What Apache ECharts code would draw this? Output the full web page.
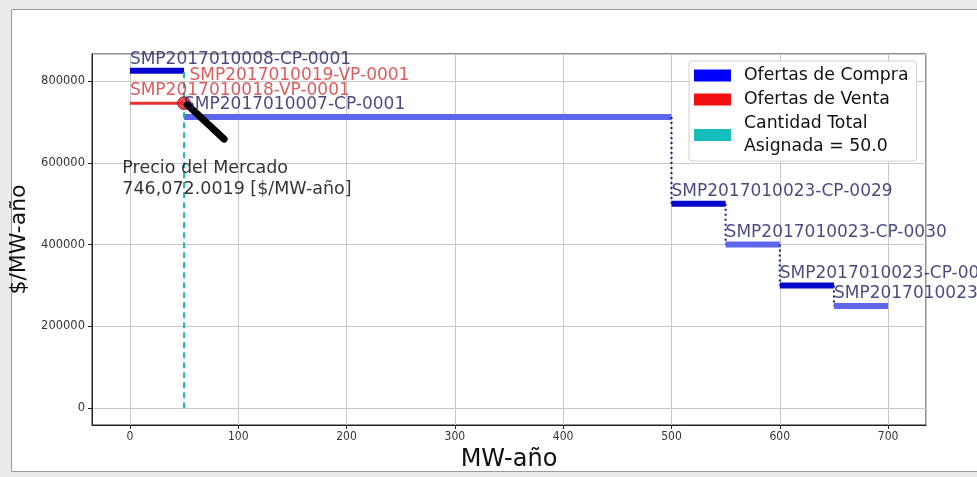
<!DOCTYPE html>
<html><head><meta charset="utf-8">
<script src="https://cdn.jsdelivr.net/npm/echarts@6/dist/echarts.min.js"></script>
<style>html,body{margin:0;padding:0;background:#ebebeb}#c{width:977px;height:477px}</style>
</head><body><div id="c"></div>
<script>
// ---- data ----
const buyNames  = ['SMP2017010008-CP-0001','SMP2017010007-CP-0001','SMP2017010023-CP-0029','SMP2017010023-CP-0030','SMP2017010023-CP-0031','SMP2017010023-CP-0032'];
const buyStart  = [0, 50, 500, 550, 600, 650];
const buyEnd    = [50, 500, 550, 600, 650, 700];
const buyPrice  = [825000, 712000, 500000, 400000, 300000, 250000];
const buyLabelX = [0, 50, 500, 550, 600, 650];
const buyLabelY = [832000, 722000, 509000, 409000, 309000, 259000];

const sellNames  = ['SMP2017010018-VP-0001','SMP2017010019-VP-0001'];
const sellStart  = [0, 50];
const sellEnd    = [50, 50];
const sellPrice  = [746072.0019, 785000];
const sellLabelX = [0, 55];
const sellLabelY = [757000, 793000];

const assignedQty = 50.0;
const marketPrice = 746072.0019;
const arrowTail = [87, 658000];
const arrowHead = [53, 742000];
const annotationPos = [-7, 510000];
const annotationText = 'Precio del Mercado\n746,072.0019 [$/MW-año]';

const legendNames = ['Ofertas de Compra','Ofertas de Venta','Cantidad Total\nAsignada = 50.0'];
const xName = 'MW-año', yName = '$/MW-año';
const xMin = -35, xMax = 735, yMin = -41250, yMax = 866250;

// ---- chart ----
const chart = echarts.init(document.getElementById('c'), null, {renderer:'canvas'});
const font = 'DejaVu Sans';
const darkBlue = '#0606cc', lightBlue = '#5f66ee';
const series = [];

buyNames.forEach((n,i)=>{
  series.push({
    name: legendNames[0], type:'line', symbol:'none', silent:true, z:3,
    itemStyle:{color:'#0000ff'},
    lineStyle:{width:6, color: i%2===0 ? darkBlue : lightBlue},
    data:[[buyStart[i], buyPrice[i]],[buyEnd[i], buyPrice[i]]]
  });
});
// dotted connectors between consecutive buy steps (from the 2nd step on)
for (let i=1;i<buyNames.length-1;i++){
  series.push({
    name:'conn', type:'line', symbol:'none', silent:true, z:4,
    lineStyle:{width:2, type:[2,3], color:'#1c1c80'},
    data:[[buyEnd[i], buyPrice[i]],[buyEnd[i], buyPrice[i+1]]]
  });
}
sellNames.forEach((n,i)=>{
  series.push({
    name: legendNames[1], type:'line', symbol:'none', silent:true, z:3,
    itemStyle:{color:'#f01010'},
    lineStyle:{width:3, color:'#e83030'},
    data:[[sellStart[i], sellPrice[i]],[sellEnd[i], sellPrice[i]]]
  });
});
series.push({
  name: legendNames[2], type:'line', symbol:'none', silent:true, z:5,
  itemStyle:{color:'#17bebe'},
  lineStyle:{width:2, type:[6,4], color:'#20b4bc'},
  data:[[assignedQty, 0],[assignedQty, buyPrice[0]]]
});
series.push({
  name:'dot', type:'scatter', symbol:'circle', symbolSize:13, silent:true, z:6,
  itemStyle:{color:'#e02424', borderColor:'#802020', borderWidth:1},
  data:[[assignedQty, marketPrice]]
});
series.push({
  name:'arrow', type:'line', symbol:'none', silent:true, z:7,
  lineStyle:{width:7, color:'#000', cap:'round'},
  data:[arrowTail, arrowHead]
});
const labelData = [];
buyNames.forEach((n,i)=>labelData.push({value:[buyLabelX[i], buyLabelY[i]], name:n, label:{color:'#1c1c62'}}));
sellNames.forEach((n,i)=>labelData.push({value:[sellLabelX[i], sellLabelY[i]], name:n, label:{color:'#d23434'}}));
series.push({
  name:'labels', type:'scatter', symbolSize:0, silent:true, z:8,
  label:{show:true, position:[0,0], align:'left', verticalAlign:'bottom', fontFamily:font, fontSize:17,
    formatter:p=>p.name},
  data:labelData
});
series.push({
  name:'annot', type:'scatter', symbolSize:0, silent:true, z:8,
  label:{show:true, position:[0,0], align:'left', verticalAlign:'bottom', fontFamily:font, fontSize:17.5,
    lineHeight:21, color:'#000', formatter:()=>annotationText},
  data:[annotationPos]
});

chart.setOption({
  animation:false,
  backgroundColor:'#ebebeb',
  graphic:[{type:'rect', z:-10, shape:{x:11.5, y:9.5, width:980, height:462},
    style:{fill:'#ffffff', stroke:'#9a9a9a', lineWidth:1}}],
  grid:{left:92, right:51, top:54, bottom:52, show:true, borderColor:'#222', borderWidth:1,
    backgroundColor:'transparent', containLabel:false, outerBoundsMode:'none'},
  legend:{
    data:legendNames, orient:'vertical', left:689, top:61, icon:'rect',
    itemWidth:37, itemHeight:12, itemGap:1, padding:[3,8,3,5],
    backgroundColor:'#fff', borderColor:'#d0d0d0', borderWidth:1, borderRadius:3,
    textStyle:{fontFamily:font, fontSize:17.3, color:'#111', lineHeight:23, padding:[0,0,0,8]},
    selectedMode:false
  },
  xAxis:{type:'value', min:xMin, max:xMax, splitNumber:7,
    name:xName, nameLocation:'middle', nameGap:23,
    nameTextStyle:{fontFamily:font, fontSize:24, color:'#111'},
    axisLine:{show:true, onZero:false, lineStyle:{color:'#222'}},
    axisTick:{show:true, length:4, lineStyle:{color:'#222'}},
    axisLabel:{fontFamily:'DejaVu Sans Condensed', fontSize:12, color:'#333', margin:6, showMinLabel:false, showMaxLabel:false},
    splitLine:{show:true, lineStyle:{color:'#c8c8c8', width:1}}
  },
  yAxis:{type:'value', min:yMin, max:yMax, splitNumber:5,
    name:yName, nameLocation:'middle', nameGap:60, nameRotate:90,
    nameTextStyle:{fontFamily:font, fontSize:22, color:'#111'},
    axisLine:{show:true, onZero:false, lineStyle:{color:'#222'}},
    axisTick:{show:true, length:4, lineStyle:{color:'#222'}},
    axisLabel:{fontFamily:font, fontSize:11.5, color:'#333', margin:7, showMinLabel:false, showMaxLabel:false,
      formatter:v=>String(v)},
    splitLine:{show:true, lineStyle:{color:'#c8c8c8', width:1}}
  },
  series:series
});
</script></body></html>
